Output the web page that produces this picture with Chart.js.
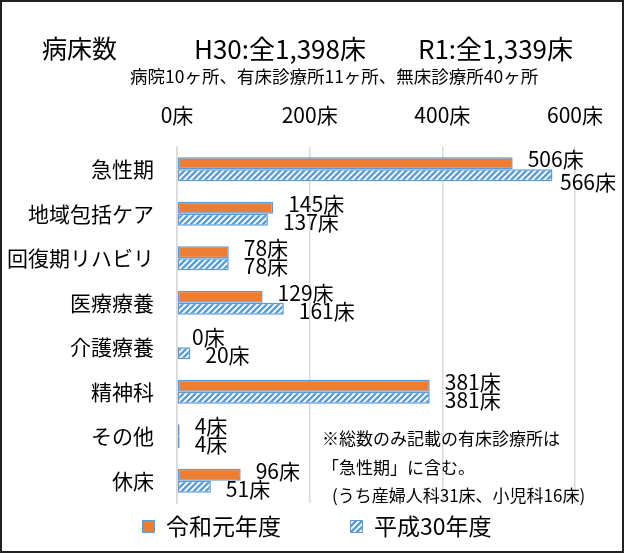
<!DOCTYPE html>
<html>
<head>
<meta charset="utf-8">
<script src="https://cdn.jsdelivr.net/npm/chart.js@4/dist/chart.umd.min.js"></script>
<style>
  html, body { margin: 0; padding: 0; background: #fff; }
  #wrap {
    position: relative; width: 624px; height: 553px; box-sizing: border-box;
    border: 2px solid #222; font-family: "Noto Sans CJK JP", sans-serif; color: #000;
  }
  #wrap canvas { position: absolute; left: 0; top: 0; }
  .t { position: absolute; white-space: nowrap; line-height: 1; }
</style>
</head>
<body>
<div id="wrap">
  <canvas id="bedChart" width="620" height="549"></canvas>
  <div class="t" style="left:40px;top:33px;font-size:25px">病床数</div>
  <div class="t" style="left:192px;top:33px;font-size:26px">H30:全1,398床</div>
  <div class="t" style="right:49px;top:33px;font-size:26px">R1:全1,339床</div>
  <div class="t" style="left:128px;top:65px;font-size:17.5px">病院10ヶ所、有床診療所11ヶ所、無床診療所40ヶ所</div>
  <div class="t" style="left:320px;top:427px;font-size:17px">※総数のみ記載の有床診療所は</div>
  <div class="t" style="left:320px;top:456px;font-size:17px">「急性期」に含む。</div>
  <div class="t" style="left:330px;top:484px;font-size:17px">(うち産婦人科31床、小児科16床)</div>
</div>
<script>
// data
const categories = ['急性期', '地域包括ケア', '回復期リハビリ', '医療療養', '介護療養', '精神科', 'その他', '休床'];
const r1Beds = [506, 145, 78, 129, 0, 381, 4, 96];    // 令和元年度
const h30Beds = [566, 137, 78, 161, 20, 381, 4, 51];  // 平成30年度
const xTicks = [0, 200, 400, 600];

const FONT = '"Noto Sans CJK JP", sans-serif';
const ORANGE = '#ED7D31';
const BLUE = '#5B9BD5';

// hatch pattern for H30 bars (white slashes on blue)
function makeHatch() {
    const c = document.createElement('canvas');
    c.width = 6; c.height = 6;
    const g = c.getContext('2d');
    g.fillStyle = BLUE;
    g.fillRect(0, 0, 6, 6);
    g.strokeStyle = '#fff';
    g.lineWidth = 1.8;
    g.beginPath();
    g.moveTo(-1, 7); g.lineTo(7, -1);
    g.moveTo(-1, 1); g.lineTo(1, -1);
    g.moveTo(5, 7); g.lineTo(7, 5);
    g.stroke();
    return g.createPattern(c, 'repeat');
}

// value labels at the end of each bar
const valueLabels = {
    id: 'valueLabels',
    afterDatasetsDraw(chart) {
        const ctx = chart.ctx;
        ctx.save();
        ctx.font = '21px ' + FONT;
        ctx.fillStyle = '#000';
        ctx.textBaseline = 'middle';
        chart.data.datasets.forEach((ds, i) => {
            chart.getDatasetMeta(i).data.forEach((bar, j) => {
                const txt = ds.data[j] + '床';
                const w = ctx.measureText(txt).width;
                let x = bar.x + 15;
                let y = bar.y + (i === 0 ? -4 : 2);
                if (x + w > chart.width - 6) {
                    x = chart.width - 6 - w;
                    y += 5;
                }
                ctx.fillText(txt, x, y);
            });
        });
        ctx.restore();
    }
};

// nudge the legend a bit right, like the original
const legendShift = {
    id: 'legendShift',
    afterLayout(chart) {
        chart.legend.left += 56;
    }
};

new Chart(document.getElementById('bedChart'), {
    type: 'bar',
    data: {
        labels: categories,
        datasets: [
            {
                label: '令和元年度',
                data: r1Beds,
                backgroundColor: ORANGE,
                borderColor: BLUE,
                borderWidth: 1.5,
                borderSkipped: false,
                barPercentage: 1,
                categoryPercentage: 0.54
            },
            {
                label: '平成30年度',
                data: h30Beds,
                backgroundColor: makeHatch(),
                borderColor: BLUE,
                borderWidth: 1.5,
                borderSkipped: false,
                barPercentage: 1,
                categoryPercentage: 0.54
            }
        ]
    },
    options: {
        indexAxis: 'y',
        responsive: false,
        animation: false,
        layout: { padding: { top: 0, right: 46, bottom: 3, left: 0 } },
        scales: {
            x: {
                position: 'top',
                min: 0,
                max: 600,
                afterBuildTicks: (s) => { s.ticks = xTicks.map(v => ({ value: v })); },
                afterFit: (s) => { s.height = 145; },
                ticks: {
                    callback: (v) => v + '床',
                    color: '#000',
                    font: { family: FONT, size: 21 },
                    padding: 19
                },
                grid: { color: '#d9d9d9', lineWidth: 1.5, drawTicks: false },
                border: { display: false }
            },
            y: {
                afterFit: (s) => { s.width = 175; },
                ticks: {
                    color: '#000',
                    font: { family: FONT, size: 21 },
                    padding: 23
                },
                grid: { display: false, drawTicks: false },
                border: { display: true, color: '#d9d9d9', width: 1.5 }
            }
        },
        plugins: {
            legend: {
                position: 'bottom',
                labels: {
                    color: '#000',
                    font: { family: FONT, size: 23 },
                    boxWidth: 12,
                    boxHeight: 12,
                    padding: 12,
                    generateLabels: (chart) => chart.data.datasets.map((ds, i) => ({
                        text: ds.label + (i === 0 ? '\u3000\u3000\u2002' : ''),
                        fillStyle: ds.backgroundColor,
                        strokeStyle: ds.borderColor,
                        lineWidth: 1,
                        datasetIndex: i
                    }))
                }
            },
            title: { display: false },
            tooltip: { enabled: false }
        }
    },
    plugins: [valueLabels, legendShift]
});
</script>
</body>
</html>
